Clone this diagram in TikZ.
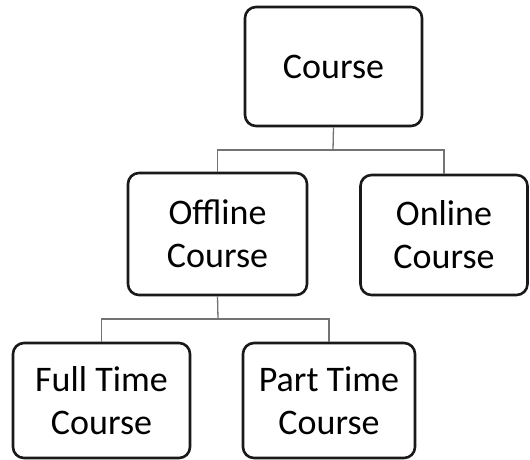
\documentclass[tikz,border=0pt]{standalone}
\usepackage{fontspec}
\setmainfont{Carlito}
\begin{document}
\begin{tikzpicture}[x=1pt,y=-1pt,
  box/.style={draw=black!90, line width=2.6pt, rounded corners=11pt, fill=white,
    align=center, inner sep=0pt, font=\fontsize{36}{43}\selectfont},
  link/.style={draw=black!55, line width=1.3pt}]
\useasboundingbox[fill=white] (0,0) rectangle (530,460);

% links (drawn first so boxes sit on top)
\coordinate (j1) at (333,150);
\coordinate (j2) at (218,319);

\node[box, minimum width=177pt, minimum height=119pt] (course)   at (333.5,66.5) {Course};
\node[box, minimum width=179pt, minimum height=122pt] (offline)  at (217.5,234)  {Offline\\Course};
\node[box, minimum width=167pt, minimum height=120pt] (online)   at (444,235)    {Online\\Course};
\node[box, minimum width=177pt, minimum height=115pt] (fulltime) at (101.5,400.5) {Full Time\\Course};
\node[box, minimum width=172pt, minimum height=115pt] (parttime) at (329,400.5)  {Part Time\\Course};

\draw[link] (course.south) -- (j1);
\draw[link] (offline.north) |- (j1) -| (online.north);
\draw[link] (offline.south) -- (j2);
\draw[link] (fulltime.north) |- (j2) -| (parttime.north);
\end{tikzpicture}
\end{document}
